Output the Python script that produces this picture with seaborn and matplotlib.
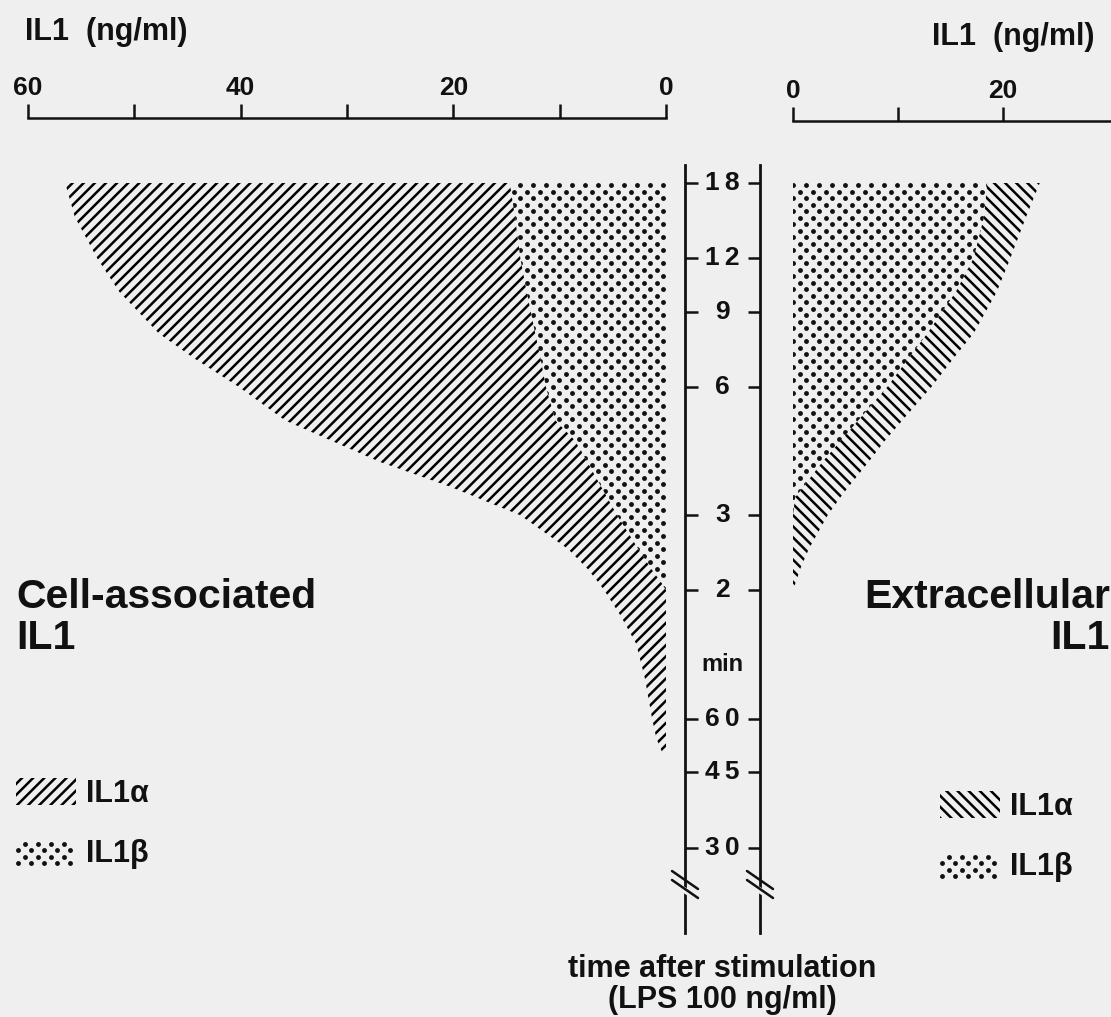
import numpy as np
import matplotlib
matplotlib.use("Agg")
import matplotlib.pyplot as plt
import matplotlib.transforms as mtransforms
from matplotlib.lines import Line2D
from matplotlib.patches import Patch, Polygon
from matplotlib.ticker import FixedLocator, NullLocator
from matplotlib.legend_handler import HandlerBase
import seaborn as sns

# ---------------------------------------------------------------- data
# time after stimulation (hours) and IL1 content (ng/ml)
cell_hours = [18, 15, 12, 10, 8, 7, 6, 5, 4.5, 4, 3.5, 3, 2.5, 2.25, 2.08, 2, 1.75, 1.5, 1.25, 1, 0.9, 0.84]
cell_total = [56.5, 55.6, 53.5, 51.4, 47.7, 44.4, 40.2, 35.8, 31.6, 26.9, 20.3, 13.7, 9.2, 7.4, 6.3, 5.8, 4.3, 2.8, 2.0, 1.3, 0.9, 0.4]
cell_il1b = [14.7, 14.2, 13.7, 13.1, 12.3, 11.8, 11.3, 10.4, 8.6, 7.4, 6.1, 4.6, 2.6, 1.4, 0.4, 0, 0, 0, 0, 0, 0, 0]

ext_hours = [18, 15, 12, 10, 8, 7, 6, 5, 4.5, 4, 3.5, 3.3, 3, 2.5, 2.25, 2.0]
ext_total = [23.5, 22.2, 20.7, 19.4, 17.2, 15.3, 13.2, 10.4, 8.8, 7.2, 5.3, 4.5, 3.3, 1.5, 0.7, 0]
ext_il1b = [18.5, 18.2, 17.2, 15.5, 12.8, 11.0, 9.0, 6.2, 4.6, 2.8, 1.0, 0.2, 0, 0, 0, 0]

time_ticks = [18, 12, 9, 6, 3, 2, 1, 0.75, 0.5]
time_labels = ["1\u20098", "1\u20092", "9", "6", "3", "2", "6\u20090", "4\u20095", "3\u20090"]

cell_ticks = [60, 50, 40, 30, 20, 10, 0]
cell_ticklabels = ["60", "", "40", "", "20", "", "0"]
ext_ticks = [0, 10, 20]
ext_ticklabels = ["0", "", "20"]

series_names = ["IL1\u03b1", "IL1\u03b2"]

# ---------------------------------------------------------------- style
sns.set_theme(style="white")
plt.rcParams["font.family"] = ["Liberation Sans", "DejaVu Sans"]
plt.rcParams["font.weight"] = "bold"
plt.rcParams["hatch.linewidth"] = 1.8
plt.rcParams["hatch.color"] = "black"

W, H = 1111, 1017
BG = "#efefef"
INK = "#111111"
DOT_DX, DOT_DY, DOT_MS = 13.0, 6.5, 3.5      # screen-tint dot lattice (px) and dot size (pt)
fig = plt.figure(figsize=(W / 100, H / 100), dpi=100, facecolor=BG)

# logarithmic time axis: 18 h at row 183 px, 427 px per decade
TOP_ROW, TOP_T, PX_PER_DECADE = 183.0, 18.0, 427.0


def t_at_row(row):
    return TOP_T * 10 ** (-(row - TOP_ROW) / PX_PER_DECADE)


def add_axes_px(x0, x1, y0, y1):
    ax = fig.add_axes([x0 / W, 1 - y1 / H, (x1 - x0) / W, (y1 - y0) / H])
    ax.set_yscale("log")
    ax.set_ylim(t_at_row(y1), t_at_row(y0))
    ax.yaxis.set_major_locator(NullLocator())
    ax.yaxis.set_minor_locator(NullLocator())
    ax.patch.set_alpha(0)
    return ax


def style_top_axis(ax, ticks, labels):
    sns.despine(ax=ax, top=False, bottom=True, left=True, right=True)
    ax.spines["top"].set_linewidth(1.8)
    ax.spines["top"].set_color(INK)
    ax.xaxis.set_ticks_position("top")
    ax.set_xticks(ticks)
    ax.set_xticklabels(labels)
    ax.tick_params(axis="x", which="major", direction="out", length=10, width=1.8,
                   color=INK, pad=3, labelsize=19, labelcolor=INK)
    ax.xaxis.set_minor_locator(NullLocator())
    ax.grid(False)


def dot_texture(ax, poly):
    """Fill a polygon with a screen-tint lattice of black dots."""
    path = poly.get_paths()[0]
    verts = ax.transData.transform(path.vertices)
    (x0, y0), (x1, y1) = verts.min(axis=0), verts.max(axis=0)
    xs, ys = [], []
    for r in np.arange(np.floor(y0 / DOT_DY) - 1, np.ceil(y1 / DOT_DY) + 2):
        off = (r % 2) * DOT_DX / 2
        cols = np.arange(np.floor((x0 - off) / DOT_DX) - 1, np.ceil((x1 - off) / DOT_DX) + 2)
        xs.extend(cols * DOT_DX + off)
        ys.extend([r * DOT_DY] * len(cols))
    ln, = ax.plot(xs, ys, ls="none", marker="o", ms=DOT_MS, mfc=INK, mec=INK, mew=0,
                  transform=mtransforms.IdentityTransform())
    ln.set_clip_path(path, ax.transData)


class DotSwatch(HandlerBase):
    """Legend key drawn with the same dot lattice as the IL1-beta areas."""

    def create_artists(self, legend, orig_handle, xdescent, ydescent, width, height,
                       fontsize, trans):
        sx, sy = DOT_DX * 0.72, DOT_DY * 0.72
        xs, ys = [], []
        r = 0
        y = -ydescent + 1.5
        while y <= -ydescent + height - 1.0:
            x = -xdescent + 1.5 + (r % 2) * sx / 2
            while x <= -xdescent + width - 1.0:
                xs.append(x)
                ys.append(y)
                x += sx
            y += sy
            r += 1
        ln = Line2D(xs, ys, ls="none", marker="o", ms=DOT_MS, mfc=INK, mec=INK, mew=0,
                    transform=trans)
        return [ln]


# ---------------------------------------------------------------- cell-associated
ax_c = add_axes_px(28, 666, 118, 933)
ax_c.set_xlim(60, 0)
style_top_axis(ax_c, cell_ticks, cell_ticklabels)
ax_c.fill_betweenx(cell_hours, cell_il1b, cell_total, facecolor="none",
                   edgecolor="black", linewidth=0, hatch="///")
beta_c = ax_c.fill_betweenx(cell_hours, 0, cell_il1b, facecolor="none", linewidth=0)
dot_texture(ax_c, beta_c)

# ---------------------------------------------------------------- extracellular
ax_e = add_axes_px(793, 1111, 121, 933)
ax_e.set_xlim(0, 318 / 10.5)
style_top_axis(ax_e, ext_ticks, ext_ticklabels)
beta_e = ax_e.fill_betweenx(ext_hours, 0, ext_il1b, facecolor="none", linewidth=0)
dot_texture(ax_e, beta_e)
ax_e.fill_betweenx(ext_hours, ext_il1b, ext_total, facecolor="none",
                   edgecolor="black", linewidth=0, hatch="\\\\\\")

# ---------------------------------------------------------------- time axis
ax_t = add_axes_px(685, 760, 165, 933)
ax_t.set_xlim(0, 1)
for side in ("top", "bottom"):
    ax_t.spines[side].set_visible(False)
for side in ("left", "right"):
    ax_t.spines[side].set_visible(True)
    ax_t.spines[side].set_linewidth(2.0)
    ax_t.spines[side].set_color(INK)
ax_t.set_xticks([])
ax_t.yaxis.set_major_locator(FixedLocator(time_ticks))
ax_t.yaxis.set_ticks_position("both")
ax_t.tick_params(axis="y", which="major", direction="in", length=9, width=1.8,
                 color=INK, left=True, right=True, labelleft=False, labelright=False)
ax_t.grid(False)
blend = mtransforms.blended_transform_factory(ax_t.transAxes, ax_t.transData)
for t, lab in zip(time_ticks, time_labels):
    ax_t.text(0.5, t, lab, transform=blend, ha="center", va="center",
              fontsize=19, color=INK)
ax_t.text(0.5, 1.34, "min", transform=blend, ha="center", va="center",
          fontsize=17, color=INK)

# axis-break marks on both time-axis lines
for x0 in (685, 760):
    y0 = 888
    gap = Polygon([((x0 - 11) / W, 1 - (y0 - 8) / H), ((x0 + 11) / W, 1 - (y0 + 6) / H),
                   ((x0 + 11) / W, 1 - (y0 + 13) / H), ((x0 - 11) / W, 1 - (y0 - 1) / H)],
                  closed=True, transform=fig.transFigure, facecolor=BG, edgecolor="none",
                  zorder=5)
    fig.add_artist(gap)
    for dy in (-9, 0):
        fig.add_artist(Line2D([(x0 - 13) / W, (x0 + 13) / W],
                              [1 - (y0 + dy - 8) / H, 1 - (y0 + dy + 10) / H],
                              transform=fig.transFigure, color=INK, linewidth=1.8,
                              zorder=6))

# ---------------------------------------------------------------- labels
fig.text(25 / W, 1 - 32 / H, "IL1  (ng/ml)", ha="left", va="center",
         fontsize=22, color=INK)
fig.text(932 / W, 1 - 37 / H, "IL1  (ng/ml)", ha="left", va="center",
         fontsize=22, color=INK)

fig.text(16 / W, 1 - 597 / H, "Cell-associated", ha="left", va="center",
         fontsize=29.5, color=INK)
fig.text(16 / W, 1 - 638 / H, "IL1", ha="left", va="center",
         fontsize=29.5, color=INK)
fig.text(1110 / W, 1 - 597 / H, "Extracellular", ha="right", va="center",
         fontsize=29.5, color=INK)
fig.text(1110 / W, 1 - 638 / H, "IL1", ha="right", va="center",
         fontsize=29.5, color=INK)

fig.text(722 / W, 1 - 969 / H, "time after stimulation", ha="center", va="center",
         fontsize=22, color=INK)
fig.text(722 / W, 1 - 1000 / H, "(LPS 100 ng/ml)", ha="center", va="center",
         fontsize=22, color=INK)

# ---------------------------------------------------------------- legends
def add_legend(ax, alpha_hatch, x_px, y_px):
    beta_key = Patch(facecolor="none", linewidth=0)
    handles = [
        Patch(facecolor="none", edgecolor="black", linewidth=0, hatch=alpha_hatch),
        beta_key,
    ]
    leg = ax.legend(handles, series_names, loc="upper left",
                    bbox_to_anchor=(x_px / W, 1 - y_px / H),
                    bbox_transform=fig.transFigure, frameon=False,
                    fontsize=22, handlelength=1.95, handleheight=1.0,
                    handletextpad=0.35, labelspacing=0.95, borderpad=0,
                    borderaxespad=0, handler_map={beta_key: DotSwatch()})
    for txt in leg.get_texts():
        txt.set_color(INK)
        txt.set_fontweight("bold")
    return leg


add_legend(ax_c, "///", 16, 778)
add_legend(ax_e, "\\\\\\", 940, 791)

fig.savefig("out.png", dpi=100, facecolor=BG)
